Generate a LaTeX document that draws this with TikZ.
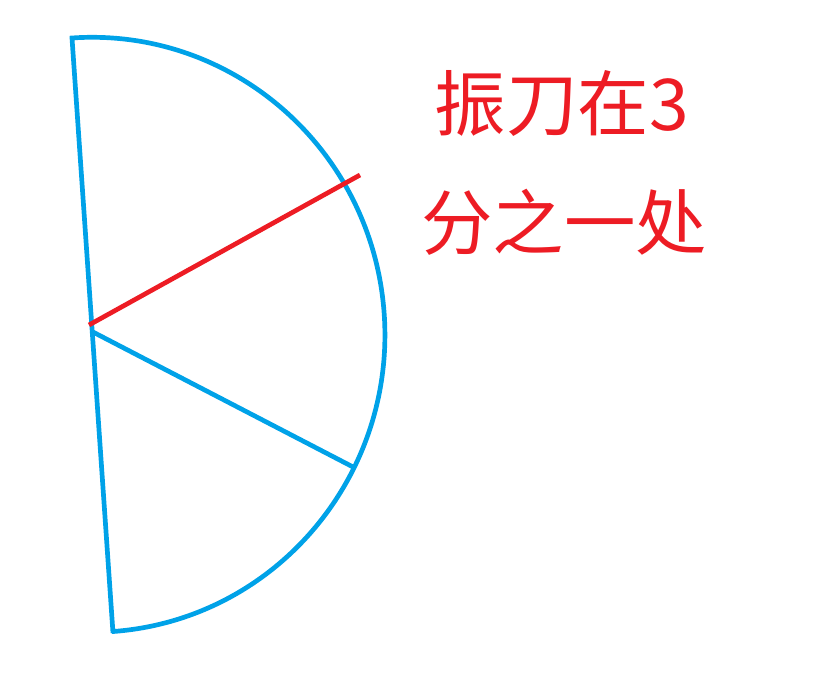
\documentclass[tikz,border=0pt]{standalone}
\usepackage{fontspec}
\newfontfamily\cjk{Noto Sans CJK SC}
\usetikzlibrary{calc}
\definecolor{paintblue}{RGB}{0,162,232}
\definecolor{paintred}{RGB}{237,28,36}

\begin{document}
\begin{tikzpicture}[
  x=0.03cm, y=0.03cm,
  edge/.style={draw=paintblue, line width=4pt, line join=miter},
  cut/.style={draw=paintred, line width=4pt},
  label/.style={text=paintred, font=\cjk\fontsize{61}{72}\selectfont, inner sep=0pt}
]
\useasboundingbox (0,0) rectangle (828,686);

\coordinate (top) at (72,648);
\coordinate (bot) at (113,53);
\coordinate (mid) at (91,355);
\coordinate (cutend) at (360,511);
\coordinate (rimend) at (355,218);

% half disc
\draw[edge] (bot) -- (top) arc[start angle=93.9, end angle=-86.1, x radius=293, y radius=297.5];

\draw[edge] (mid) -- (rimend);
\draw[cut] ($(mid)+(-2,6)$) -- (cutend);

\node[label] (line1) at (562,583) {振刀在3};
\node[label] (line2) at (564,464) {分之一处};

\end{tikzpicture}
\end{document}
